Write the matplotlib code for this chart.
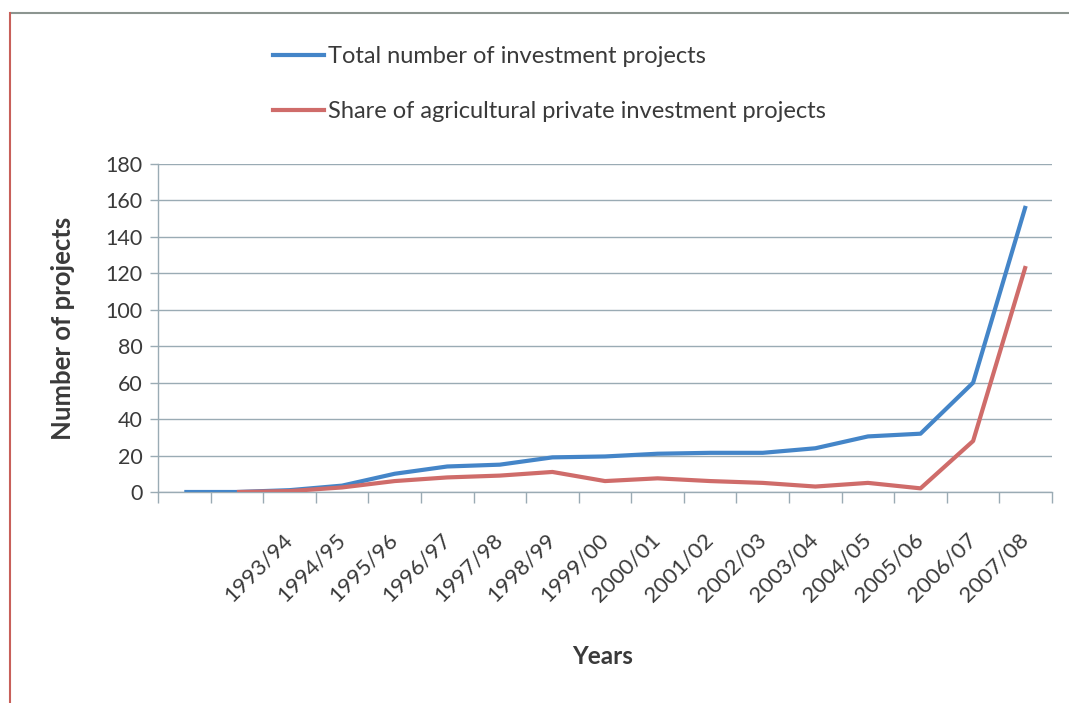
import numpy as np
import matplotlib
matplotlib.use("Agg")
import matplotlib.pyplot as plt
from matplotlib.lines import Line2D

plt.rcParams['font.family'] = ['Lato', 'DejaVu Sans']

# Category axis: two leading unlabeled slots, then fiscal years
years = ["", "", "1993/94", "1994/95", "1995/96", "1996/97", "1997/98",
         "1998/99", "1999/00", "2000/01", "2001/02", "2002/03", "2003/04",
         "2004/05", "2005/06", "2006/07", "2007/08"]

total_projects = [0, 0, 1, 3.5, 10, 14, 15, 19, 19.5, 21, 21.5, 21.5,
                  24, 30.5, 32, 60, 157]
agri_projects = [None, 0, 0.5, 2.5, 6, 8, 9, 11, 6, 7.5, 6, 5,
                 3, 5, 2, 28, 124]

label_total = "Total number of investment projects"
label_agri = "Share of agricultural private investment projects"
y_label = "Number of projects"
x_label = "Years"
y_ticks = list(range(0, 181, 20))

blue = "#4485c8"
red = "#cf6c6a"
grid_col = "#9aabb4"
text_col = "#3a3a3a"

fig = plt.figure(figsize=(10.69, 7.03), dpi=100)
ax = fig.add_axes([158 / 1069, 1 - 492 / 703, (1052 - 158) / 1069, (492 - 164) / 703])

n = len(years)
x = np.arange(n)
agri = np.array([np.nan if v is None else v for v in agri_projects], dtype=float)

ax.plot(x, total_projects, color=blue, lw=3.0, solid_capstyle='butt',
        solid_joinstyle='round', label=label_total, zorder=3)
ax.plot(x, agri, color=red, lw=3.0, solid_capstyle='butt',
        solid_joinstyle='round', label=label_agri, zorder=4)

ax.set_xlim(-0.5, n - 0.5)
ax.set_ylim(0, 180)

# Horizontal gridlines
ax.set_yticks(y_ticks)
ax.yaxis.grid(True, color=grid_col, lw=1.0)
ax.set_axisbelow(True)
ax.tick_params(axis='y', direction='out', length=6, width=1, color=grid_col,
               labelsize=15.5, labelcolor=text_col, pad=5)

# Tick marks at category boundaries, labels at category centres
ax.set_xticks(np.arange(-0.5, n, 1.0))
ax.set_xticklabels([])
ax.tick_params(axis='x', which='major', direction='out', length=8, width=1,
               color=grid_col)
ax.set_xticks(x, minor=True)
ax.set_xticklabels(years, minor=True, rotation=45, ha='right', va='center',
                   rotation_mode='anchor')
ax.tick_params(axis='x', which='minor', length=0, labelsize=16,
               labelcolor=text_col, pad=32)

for side in ('top', 'right'):
    ax.spines[side].set_visible(False)
for side in ('left', 'bottom'):
    ax.spines[side].set_color(grid_col)
    ax.spines[side].set_linewidth(1.0)

fig.text(63 / 1069, 1 - 328 / 703, y_label, rotation=90, ha='center',
         va='center', fontsize=18.5, fontweight='bold', color=text_col)
fig.text(603 / 1069, 1 - 656 / 703, x_label, ha='center', va='center',
         fontsize=17.5, fontweight='bold', color=text_col)

handles = [Line2D([], [], color=blue, lw=3.0), Line2D([], [], color=red, lw=3.0)]
fig.legend(handles, [label_total, label_agri], loc='upper left',
           bbox_to_anchor=(273 / 1069, 1 - 46 / 703), frameon=False,
           fontsize=17, handlelength=2.15, handletextpad=0.2,
           labelspacing=1.45, borderpad=0, borderaxespad=0,
           labelcolor=text_col)

# Frame lines along the top and left of the picture
fig.add_artist(Line2D([11 / 1069, 1], [1 - 13 / 703, 1 - 13 / 703],
                      color="#8c9590", lw=1.5, transform=fig.transFigure))
fig.add_artist(Line2D([10 / 1069, 10 / 1069], [0, 1 - 13 / 703],
                      color="#c8605a", lw=1.5, transform=fig.transFigure))

fig.savefig("out.png", dpi=100, facecolor='white')
